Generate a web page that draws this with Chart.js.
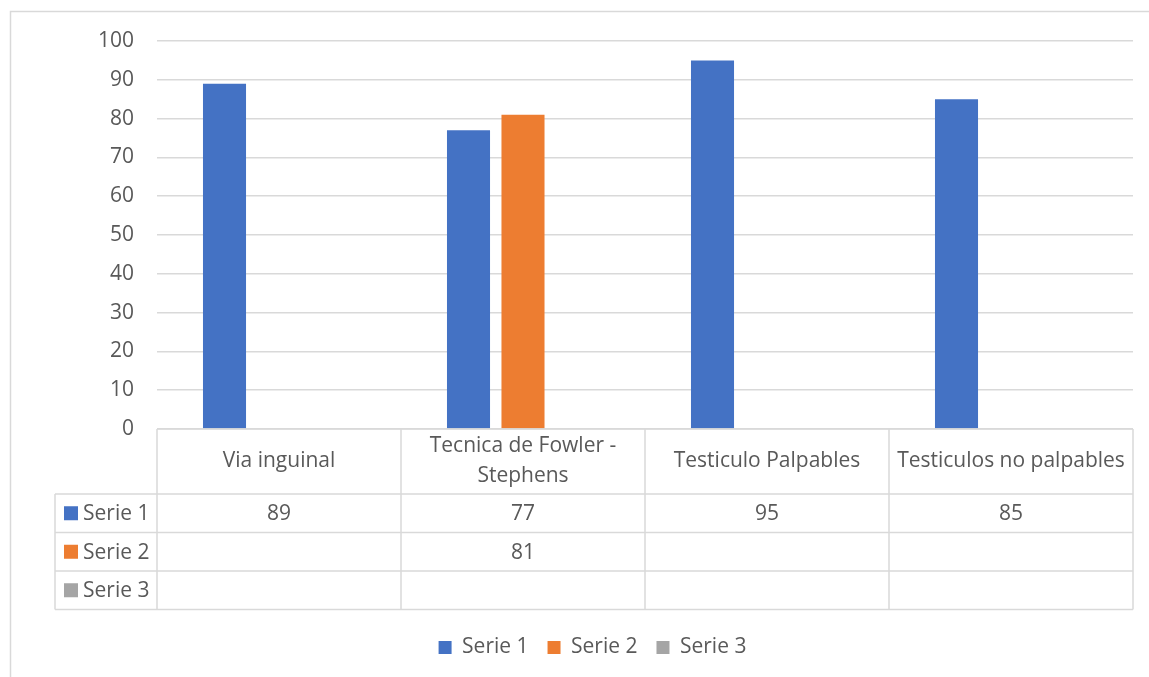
<!DOCTYPE html>
<html>
<head>
<meta charset="utf-8">
<title>Resultados</title>
<script src="https://cdn.jsdelivr.net/npm/chart.js@4"></script>
<style>
    html, body { margin: 0; padding: 0; background: #ffffff; }
    canvas { display: block; }
</style>
</head>
<body>
<canvas id="resultsChart" width="1149" height="677"></canvas>
<script>
// Categories (multi-line labels are split for the table header)
const categories = [
    ['Via inguinal'],
    ['Tecnica de Fowler -', 'Stephens'],
    ['Testiculo Palpables'],
    ['Testiculos no palpables']
];
const seriesNames = ['Serie 1', 'Serie 2', 'Serie 3'];
const serie1 = [89, 77, 95, 85];
const serie2 = [null, 81, null, null];
const serie3 = [null, null, null, null];
const seriesColors = ['#4472C4', '#ED7D31', '#A5A5A5'];

const textColor = '#595959';
const lineColor = '#d9d9d9';
const fontFamily = '"Open Sans", "Noto Sans", sans-serif';
const fontSize = 21;

// Frame around the whole chart
const framePlugin = {
    id: 'frame',
    beforeDraw(chart) {
        const ctx = chart.ctx;
        ctx.save();
        ctx.fillStyle = '#ffffff';
        ctx.fillRect(0, 0, chart.width, chart.height);
        ctx.strokeStyle = lineColor;
        ctx.lineWidth = 1.5;
        ctx.strokeRect(10.5, 11.5, chart.width + 20, chart.height + 20);
        ctx.restore();
    }
};

// Data table drawn under the plot, columns follow the category scale
const dataTablePlugin = {
    id: 'dataTable',
    afterDraw(chart) {
        const ctx = chart.ctx;
        const area = chart.chartArea;
        const n = categories.length;
        const colW = (area.right - area.left) / n;
        const top = area.bottom;
        const headerBottom = top + 65;
        const rowH = 38.5;
        const legendLeft = 55;
        const rows = chart.data.datasets;
        const tableBottom = headerBottom + rowH * rows.length;

        ctx.save();
        ctx.strokeStyle = lineColor;
        ctx.lineWidth = 1.5;
        ctx.beginPath();
        // horizontal lines
        ctx.moveTo(area.left, top);
        ctx.lineTo(area.right, top);
        for (let r = 0; r <= rows.length; r++) {
            const y = headerBottom + r * rowH;
            ctx.moveTo(legendLeft, y);
            ctx.lineTo(area.right, y);
        }
        // vertical lines
        ctx.moveTo(legendLeft, headerBottom);
        ctx.lineTo(legendLeft, tableBottom);
        for (let c = 0; c <= n; c++) {
            const x = area.left + c * colW;
            ctx.moveTo(x, top);
            ctx.lineTo(x, tableBottom);
        }
        ctx.stroke();

        ctx.font = fontSize + 'px ' + fontFamily;
        ctx.fillStyle = textColor;
        ctx.textAlign = 'center';
        ctx.textBaseline = 'middle';

        // header: category names
        categories.forEach((lines, i) => {
            const x = chart.scales.x.getPixelForValue(i);
            const mid = (top + headerBottom) / 2;
            const lh = 30;
            lines.forEach((line, k) => {
                const y = mid + (k - (lines.length - 1) / 2) * lh;
                ctx.fillText(line, x, y);
            });
        });

        // rows: series key + values
        rows.forEach((ds, r) => {
            const yMid = headerBottom + r * rowH + rowH / 2;
            ctx.fillStyle = ds.backgroundColor;
            ctx.fillRect(64, yMid - 7, 14, 14);
            ctx.fillStyle = textColor;
            ctx.textAlign = 'left';
            ctx.fillText(ds.label, 83, yMid + 1);
            ctx.textAlign = 'center';
            ds.data.forEach((v, i) => {
                if (v === null) return;
                ctx.fillText(String(v), chart.scales.x.getPixelForValue(i), yMid + 1);
            });
        });
        ctx.restore();
    }
};

const seriesData = [serie1, serie2, serie3];

new Chart(document.getElementById('resultsChart'), {
    type: 'bar',
    data: {
        labels: categories.map(c => c.join(' ')),
        datasets: seriesNames.map((name, i) => ({
            label: name,
            data: seriesData[i],
            backgroundColor: seriesColors[i],
            borderWidth: 0,
            categoryPercentage: 0.67,
            barPercentage: 0.79
        }))
    },
    options: {
        responsive: false,
        animation: false,
        layout: {
            padding: { top: 41, right: 16, bottom: 9, left: 52 }
        },
        plugins: {
            legend: {
                position: 'bottom',
                labels: {
                    boxWidth: 13,
                    boxHeight: 13,
                    padding: 19,
                    color: textColor,
                    font: { family: fontFamily, size: fontSize }
                }
            },
            tooltip: { enabled: false }
        },
        scales: {
            x: {
                grid: { display: false, drawTicks: false },
                border: { display: false },
                ticks: { display: false },
                afterFit(scale) {
                    scale.height = 189;
                }
            },
            y: {
                min: 0,
                max: 100,
                ticks: {
                    stepSize: 10,
                    padding: 23,
                    color: textColor,
                    font: { family: fontFamily, size: fontSize }
                },
                grid: { color: lineColor, lineWidth: 1.5, drawTicks: false },
                border: { display: false },
                afterFit(scale) {
                    scale.width = 105;
                }
            }
        }
    },
    plugins: [framePlugin, dataTablePlugin]
});
</script>
</body>
</html>
